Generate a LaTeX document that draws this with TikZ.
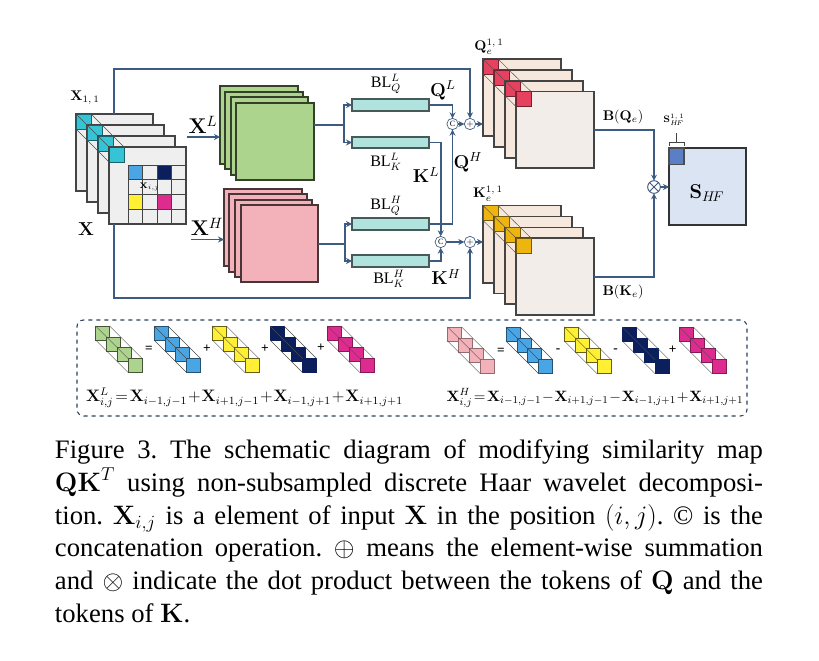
\documentclass[tikz,border=0pt]{standalone}
\usepackage{fix-cm}
\usepackage{graphicx}
\usepackage{amsmath,amssymb}
\usepackage[no-math]{fontspec}
\setmainfont{Liberation Serif}
\frenchspacing
\usetikzlibrary{arrows.meta,calc,decorations.pathreplacing}
\definecolor{conn}{HTML}{3D5A80}
\definecolor{edgeg}{HTML}{444444}
\definecolor{xfill}{HTML}{EFEFEF}
\definecolor{cyanc}{HTML}{35C3D6}
\definecolor{greenc}{HTML}{ADD48D}
\definecolor{pinkc}{HTML}{F3B2BA}
\definecolor{blc}{HTML}{B0E2DE}
\definecolor{bluec}{HTML}{4AA5E5}
\definecolor{navyc}{HTML}{0A1F5C}
\definecolor{yellowc}{HTML}{FFF033}
\definecolor{magc}{HTML}{DD2B8F}
\definecolor{redc}{HTML}{E6425F}
\definecolor{goldc}{HTML}{EEB50E}
\definecolor{peach}{HTML}{F6E8DC}
\definecolor{frontc}{HTML}{F2EDE8}
\definecolor{sfill}{HTML}{DBE4F2}
\definecolor{sdark}{HTML}{5A7FC4}
\tikzset{
  pxbox/.style={draw=edgeg,line width=1pt,inner sep=0pt,outer sep=0pt,anchor=center},
  wire/.style={draw=conn,line width=1.25pt},
  arrowwire/.style={wire,-{Stealth[length=4.5pt,width=4.5pt]}},
  opnode/.style={circle,draw=conn,line width=.5pt,fill=white,minimum size=8.5pt,inner sep=0pt,outer sep=0pt,font=\fontsize{6}{6}\selectfont},
  blbox/.style={pxbox,draw=black!60!blc,fill=blc},
  lbl/.style={inner sep=0pt,outer sep=0pt,anchor=center},
  thinline/.style={draw=black!70,line width=.3pt}
}
% name, x1, y1, x2, y2, style
\newcommand{\pxb}[6]{\node[pxbox,#6,minimum width={((#4)-(#2))*0.75pt},minimum height={((#5)-(#3))*0.75pt}] (#1) at ({((#2)+(#4))/2},{((#3)+(#5))/2}) {};}
% diagonal mini strip: prefix, x, y, fill, edge
\newcommand{\strip}[5]{%
  \foreach \k in {0,1,2,3}{\pxb{#1\k}{#2+10.9*\k}{#3+10.9*\k}{#2+10.9*\k+14}{#3+10.9*\k+14}{fill=#4,draw=#5,line width=.6pt}}
  \draw[thinline] (#10.north west) -- (#13.north west);
  \draw[thinline] (#10.north east) -- (#13.north east);
  \draw[thinline] (#10.south west) -- (#13.south west);
}
\begin{document}
\begin{tikzpicture}[x=0.75pt,y=-0.75pt]
\useasboundingbox (0,0) rectangle (819,661);
% input stack
\pxb{xa}{76}{114}{153}{191}{fill=xfill}
\pxb{xas}{76}{114}{91}{129}{fill=cyanc,draw=black!50!cyanc,line width=.6pt}
\pxb{xb}{87}{125}{164}{202}{fill=xfill}
\pxb{xbs}{87}{125}{102}{140}{fill=cyanc,draw=black!50!cyanc,line width=.6pt}
\pxb{xc}{98}{136}{175}{213}{fill=xfill}
\pxb{xcs}{98}{136}{113}{151}{fill=cyanc,draw=black!50!cyanc,line width=.6pt}
\pxb{xd}{109}{147}{186}{224}{fill=xfill}
\pxb{xds}{109}{147}{124}{162}{fill=cyanc,draw=black!50!cyanc,line width=.6pt}
\draw[thinline] (xas.north west) -- (xds.north west);
\draw[thinline] (xas.north east) -- (xds.north east);
\draw[thinline] (xas.south west) -- (xds.south west);
\foreach \i in {0,1,2,3}\foreach \j in {0,1,2,3}{\pxb{g\i\j}{128+14.5*\i}{165+14.75*\j}{128+14.5*\i+14.5}{165+14.75*\j+14.75}{fill=xfill,draw=edgeg,line width=.5pt}}
\pxb{gb}{128}{165}{142.5}{179.75}{fill=bluec,draw=edgeg,line width=.5pt}
\pxb{gn}{157}{165}{171.5}{179.75}{fill=navyc,draw=edgeg,line width=.5pt}
\pxb{gy}{128}{194.5}{142.5}{209.25}{fill=yellowc,draw=edgeg,line width=.5pt}
\pxb{gm}{157}{194.5}{171.5}{209.25}{fill=magc,draw=edgeg,line width=.5pt}
\draw[edgeg,line width=1pt] (xd.north west) rectangle (xd.south east);
\node[lbl,font=\fontsize{6}{7}\selectfont] (xij) at (149.5,187) {$\mathbf{X}_{i,j}$};
\node[lbl,font=\fontsize{10.5}{12}\selectfont] (x11) at (85,98) {$\mathbf{X}_{1,\,1}$};
\node[lbl,font=\fontsize{14}{16}\selectfont] (xlab) at (86,229) {$\mathbf{X}$};
% green stack
\pxb{ga}{220}{86}{298}{164}{fill=greenc,draw=black!70!greenc}
\pxb{gbb}{225}{92}{303}{169}{fill=greenc,draw=black!70!greenc}
\pxb{gc}{231}{97}{308}{175}{fill=greenc,draw=black!70!greenc}
\pxb{gd}{236}{103}{314}{180}{fill=greenc,draw=black!70!greenc}
% pink stack
\pxb{pa}{224}{189}{302}{266}{fill=pinkc,draw=black!70!pinkc}
\pxb{pb}{229}{194}{307}{272}{fill=pinkc,draw=black!70!pinkc}
\pxb{pc}{235}{200}{312}{277}{fill=pinkc,draw=black!70!pinkc}
\pxb{pd}{241}{205}{318}{282}{fill=pinkc,draw=black!70!pinkc}
\node[lbl,font=\fontsize{16}{19}\selectfont] (xl) at (203,125) {$\mathbf{X}^{L}$};
\node[lbl,font=\fontsize{16}{19}\selectfont] (xh) at (207,227) {$\mathbf{X}^{H}$};
\coordinate (xls) at (187,137); \coordinate (xhs) at (191,239.5);
\draw[arrowwire] (xls) -- (xls -| ga.west);
\draw[arrowwire] (xhs) -- (xhs -| pa.west);
% BL boxes
\pxb{blq}{352}{99}{429}{111}{blbox}
\pxb{blk}{352}{137}{429}{148}{blbox}
\pxb{hq}{352}{218}{429}{230}{blbox}
\pxb{hk}{352}{255}{429}{267}{blbox}
\node[lbl,font=\fontsize{12}{14}\selectfont] at (386,84) {BL$_{Q}^{L}$};
\node[lbl,font=\fontsize{12}{14}\selectfont] at (386,162) {BL$_{K}^{L}$};
\node[lbl,font=\fontsize{12}{14}\selectfont] at (386,206) {BL$_{Q}^{H}$};
\node[lbl,font=\fontsize{12}{14}\selectfont] at (389,279) {BL$_{K}^{H}$};
% junctions
\coordinate (gj) at (344,125); \coordinate (pj) at (345,244);
\draw[wire] (gj -| gd.east) -- (gj);
\draw[wire] (pj -| pd.east) -- (pj);
\draw[arrowwire] (gj) |- (blq.west);
\draw[arrowwire] (gj) |- (blk.west);
\draw[arrowwire] (pj) |- (hq.west);
\draw[arrowwire] (pj) |- (hk.west);
% operators
\node[opnode] (cu) at (452.5,124) {C};
\node[opnode] (pu) at (470,124) {$+$};
\node[opnode] (cl) at (440.7,242) {C};
\node[opnode] (pl) at (470,242) {$+$};
\node[opnode,minimum size=9.5pt,line width=.7pt,path picture={\draw[conn,line width=.6pt] (path picture bounding box.north west)--(path picture bounding box.south east) (path picture bounding box.north east)--(path picture bounding box.south west);}] (ot) at (654,187) {};
% Q stack
\pxb{qa}{483}{59}{561}{136}{fill=peach}
\pxb{qas}{483}{59}{498}{74}{fill=redc,draw=black!50!redc,line width=.6pt}
\pxb{qb}{494}{70}{572}{147}{fill=peach}
\pxb{qbs}{494}{70}{509}{85}{fill=redc,draw=black!50!redc,line width=.6pt}
\pxb{qc}{505}{81}{583}{158}{fill=peach}
\pxb{qcs}{505}{81}{520}{96}{fill=redc,draw=black!50!redc,line width=.6pt}
\pxb{qd}{516}{91.5}{594}{168}{fill=frontc}
\pxb{qds}{516}{91.5}{531}{106.5}{fill=redc,draw=black!50!redc,line width=.6pt}
\draw[thinline] (qas.north west) -- (qds.north west);
\draw[thinline] (qas.north east) -- (qds.north east);
\draw[thinline] (qas.south west) -- (qds.south west);
% K stack
\pxb{ka}{483}{205.5}{561}{283}{fill=peach}
\pxb{kas}{483}{205.5}{498}{220.5}{fill=goldc,draw=black!50!goldc,line width=.6pt}
\pxb{kb}{494}{216.5}{572}{293.5}{fill=peach}
\pxb{kbs}{494}{216.5}{509}{231.5}{fill=goldc,draw=black!50!goldc,line width=.6pt}
\pxb{kc}{505}{227.5}{583}{304}{fill=peach}
\pxb{kcs}{505}{227.5}{520}{242.5}{fill=goldc,draw=black!50!goldc,line width=.6pt}
\pxb{kd}{516}{238}{594}{315}{fill=frontc}
\pxb{kds}{516}{238}{531}{253}{fill=goldc,draw=black!50!goldc,line width=.6pt}
\draw[thinline] (kas.north west) -- (kds.north west);
\draw[thinline] (kas.north east) -- (kds.north east);
\draw[thinline] (kas.south west) -- (kds.south west);
% wires to operators
\draw[arrowwire] (blq.east) -| (cu.north);
\draw[arrowwire] (blk.east) -| (cl.north);
\draw[arrowwire] (hq.east) -| (cu.south);
\draw[arrowwire] (hk.east) -| (cl.south);
\draw[arrowwire] (cu.east) -- (pu.west);
\draw[arrowwire] (cl.east) -- (pl.west);
\draw[arrowwire] (pu.east) -- (pu.east -| qa.west);
\draw[arrowwire] (pl.east) -- (pl.east -| ka.west);
\coordinate (topa) at (114,114); \coordinate (topb) at (114,69);
\coordinate (bota) at (114,224); \coordinate (botb) at (114,298);
\draw[arrowwire] (topa) -- (topb) -| (pu.north);
\draw[arrowwire] (bota) -- (botb) -| (pl.south);
\coordinate (bq) at (594,130); \coordinate (bk) at (594,277);
\draw[arrowwire] (bq) -| (ot.north);
\draw[arrowwire] (bk) -| (ot.south);
% labels
\node[lbl,font=\fontsize{14}{17}\selectfont] at (443,90) {$\mathbf{Q}^{L}$};
\node[lbl,font=\fontsize{14}{17}\selectfont] at (426,175) {$\mathbf{K}^{L}$};
\node[lbl,font=\fontsize{14}{17}\selectfont] at (468,162) {$\mathbf{Q}^{H}$};
\node[lbl,font=\fontsize{14}{17}\selectfont] at (446,277) {$\mathbf{K}^{H}$};
\node[lbl,font=\fontsize{10.5}{12}\selectfont] at (489,47) {$\mathbf{Q}_{e}^{1,\,1}$};
\node[lbl,font=\fontsize{10.5}{12}\selectfont] at (488,194) {$\mathbf{K}_{e}^{1,\,1}$};
\node[lbl,font=\fontsize{10.5}{12}\selectfont] at (623,117) {$\mathbf{B}(\mathbf{Q}_{e})$};
\node[lbl,font=\fontsize{10.5}{12}\selectfont] at (623,292) {$\mathbf{B}(\mathbf{K}_{e})$};
% S box
\pxb{sb}{669}{148}{746}{225}{fill=sfill,draw=black!80}
\pxb{ss}{669}{148}{684}{164.5}{fill=sdark,draw=black!70}
\draw[edgeg,line width=.5pt] (669,146) -- (669,142) -- (684,142) -- (684,146) (676.5,142) -- (676.5,133);
\node[lbl,font=\fontsize{7}{8}\selectfont] at (674,120) {$\mathbf{S}_{H\!F}^{1,\,1}$};
\node[lbl,font=\fontsize{15}{18}\selectfont] at (707,193) {$\mathbf{S}_{H\!F}$};
\draw[arrowwire] (ot.east) -- (ot.east -| sb.west);
% dashed panel
\node[draw=conn!70!black,dashed,line width=.8pt,rounded corners=5pt,inner sep=0pt,outer sep=0pt,minimum width={670*0.75pt},minimum height={96*0.75pt}] (panel) at (412,368) {};
\strip{a}{95.7}{326}{greenc}{black!60!greenc}
\strip{b}{154}{326}{bluec}{black!50!bluec}
\strip{c}{212.3}{326}{yellowc}{black!60!yellowc}
\strip{d}{270}{326}{navyc}{navyc}
\strip{e}{327.3}{326}{magc}{black!40!magc}
\strip{f}{447.7}{327}{pinkc}{black!40!pinkc}
\strip{h}{506}{327}{bluec}{black!50!bluec}
\strip{m}{564.3}{327}{yellowc}{black!60!yellowc}
\strip{n}{622.3}{327}{navyc}{navyc}
\strip{o}{679.3}{327}{magc}{black!40!magc}
\foreach \px/\py/\t in {149/349/=,207/349/+,265/349/+,321/348/+,501/351/=,558/351/-,615.7/351/-,672.7/350/+}
  \node[lbl,font=\bfseries\fontsize{10}{10}\selectfont] at (\px,\py) {\t};
\node[lbl,font=\fontsize{12}{14}\selectfont] (fl) at (244.5,398) {\scalebox{1.036}{$\mathbf{X}^{L}_{i,j}\!=\!\mathbf{X}_{i-1,j-1}\!+\!\mathbf{X}_{i+1,j-1}\!+\!\mathbf{X}_{i-1,j+1}\!+\!\mathbf{X}_{i+1,j+1}$}};
\node[lbl,font=\fontsize{11.6}{14}\selectfont] (fh) at (595,398) {\scalebox{0.967}{$\mathbf{X}^{H}_{i,j}\!=\!\mathbf{X}_{i-1,j-1}\!-\!\mathbf{X}_{i+1,j-1}\!-\!\mathbf{X}_{i-1,j+1}\!+\!\mathbf{X}_{i+1,j+1}$}};
% caption
\node[anchor=north west,inner sep=0pt,outer sep=0pt,text width={708*0.75pt},align=justify,font=\fontsize{20}{24.5}\selectfont] (cap) at (55,440) {Figure 3. The schematic diagram of modifying similarity map\linebreak $\mathbf{QK}^{T}$ using non-subsampled discrete Haar wavelet decomposi-\linebreak tion. $\mathbf{X}_{i,j}$ is a element of input $\mathbf{X}$ in the position $(i,j)$. © is the\linebreak concatenation operation. $\oplus$ means the element-wise summation\linebreak and $\otimes$ indicate the dot product between the tokens of $\mathbf{Q}$ and the\linebreak tokens of $\mathbf{K}$.};
\end{tikzpicture}
\end{document}
